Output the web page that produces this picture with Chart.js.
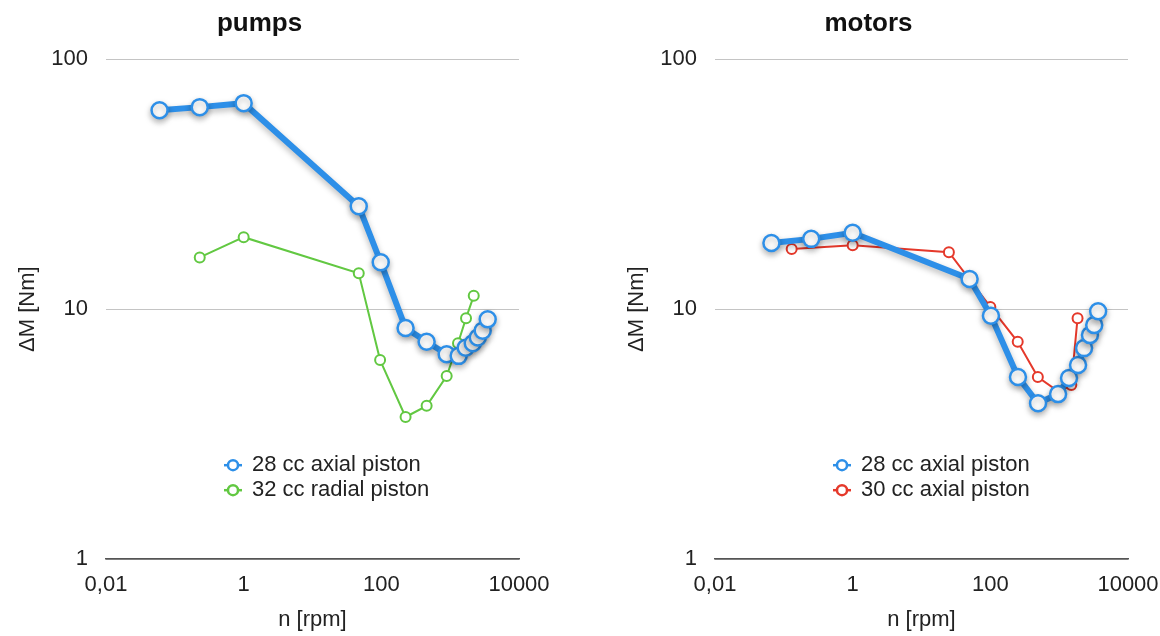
<!DOCTYPE html>
<html>
<head>
<meta charset="utf-8">
<script src="https://cdn.jsdelivr.net/npm/chart.js@4.4.1/dist/chart.umd.min.js"></script>
<style>
  html, body { margin: 0; padding: 0; background: #fff; overflow: hidden; width: 1160px; height: 636px; position: relative; }
  .panel { position: absolute; top: 0; height: 636px; width: 575px; }
  #pumpsBox { left: 0; }
  #motorsBox { left: 609px; }
</style>
</head>
<body>
<div class="panel" id="pumpsBox"><canvas id="pumpsChart"></canvas></div>
<div class="panel" id="motorsBox"><canvas id="motorsChart"></canvas></div>
<script>
// axis ticks
const xTickValues = [0.01, 1, 100, 10000];
const xTickLabels = ['0,01', '1', '100', '10000'];
const yTickValues = [1, 10, 100];

// pumps: 28 cc axial piston
const pumpAxialRpm = [0.06, 0.23, 1, 47, 98, 225, 455, 890, 1330, 1680, 2130, 2520, 2970, 3510];
const pumpAxialNm = [62.5, 64.3, 66.7, 25.8, 15.4, 8.4, 7.4, 6.6, 6.5, 7.0, 7.3, 7.7, 8.2, 9.1];

// pumps: 32 cc radial piston
const pumpRadialRpm = [0.23, 1, 47, 96, 225, 455, 890, 1300, 1700, 2200];
const pumpRadialNm = [16.1, 19.4, 13.9, 6.25, 3.7, 4.1, 5.4, 7.3, 9.2, 11.3];

// motors: 28 cc axial piston
const motorAxialRpm = [0.066, 0.25, 1, 50, 102, 252, 493, 964, 1390, 1880, 2300, 2800, 3230, 3680];
const motorAxialNm = [18.4, 19.1, 20.2, 13.2, 9.4, 5.35, 4.2, 4.57, 5.3, 5.97, 6.98, 7.87, 8.63, 9.8];

// motors: 30 cc axial piston
const motorAxial30Rpm = [0.13, 1, 25, 100, 250, 490, 1000, 1500, 1850];
const motorAxial30Nm = [17.4, 18.0, 16.9, 10.2, 7.4, 5.35, 4.66, 4.97, 9.2];

const BLUE = '#2d8fe8';
const GREEN = '#62c842';
const RED = '#e5392b';

Chart.defaults.font.family = '"Liberation Sans", Arial, Helvetica, sans-serif';
Chart.defaults.color = '#222';

function toPoints(xs, ys) {
  return xs.map((x, i) => ({ x: x, y: ys[i] }));
}

function thickSeries(label, xs, ys, color) {
  return {
    label: label,
    data: toPoints(xs, ys),
    borderColor: color,
    borderWidth: 6,
    pointRadius: 8,
    pointBorderWidth: 2.5,
    pointBackgroundColor: '#fff',
    pointBorderColor: color,
    shadow: true
  };
}

function thinSeries(label, xs, ys, color) {
  return {
    label: label,
    data: toPoints(xs, ys),
    borderColor: color,
    borderWidth: 2,
    pointRadius: 5,
    pointBorderWidth: 2,
    pointBackgroundColor: '#fff',
    pointBorderColor: color
  };
}

// soft drop shadow under the thick series
const lineShadow = {
  id: 'lineShadow',
  beforeDatasetDraw(chart, args) {
    if (!chart.data.datasets[args.index].shadow) return;
    const ctx = chart.ctx;
    ctx.save();
    ctx.shadowColor = 'rgba(0, 0, 0, 0.28)';
    ctx.shadowBlur = 6;
    ctx.shadowOffsetY = 3;
  },
  afterDatasetDraw(chart, args) {
    if (!chart.data.datasets[args.index].shadow) return;
    chart.ctx.restore();
  }
};

// legend drawn inside the plot, lower middle
const insideLegend = {
  id: 'insideLegend',
  afterDraw(chart) {
    const { ctx, chartArea } = chart;
    ctx.save();
    ctx.font = '22px "Liberation Sans", Arial, sans-serif';
    ctx.textBaseline = 'middle';
    ctx.textAlign = 'left';
    chart.data.datasets.forEach((ds, i) => {
      const y = chartArea.top + 406 + i * 25;
      const cx = chartArea.left + 127;
      ctx.strokeStyle = ds.borderColor;
      ctx.lineWidth = 2.5;
      ctx.beginPath();
      ctx.moveTo(cx - 9, y);
      ctx.lineTo(cx + 9, y);
      ctx.stroke();
      ctx.beginPath();
      ctx.arc(cx, y, 5, 0, Math.PI * 2);
      ctx.fillStyle = '#fff';
      ctx.fill();
      ctx.stroke();
      ctx.fillStyle = '#222';
      ctx.fillText(ds.label, cx + 19, y);
    });
    ctx.restore();
  }
};

function makeChart(canvasId, title, datasets) {
  const ctx = document.getElementById(canvasId).getContext('2d');
  return new Chart(ctx, {
    type: 'line',
    data: { datasets: datasets },
    options: {
      responsive: true,
      maintainAspectRatio: false,
      animation: false,
      layout: { padding: { left: 0, right: 56, top: 0, bottom: 0 } },
      elements: { line: { tension: 0 } },
      plugins: {
        legend: { display: false },
        tooltip: { enabled: false },
        title: {
          display: true,
          text: title,
          color: '#111',
          font: { size: 26, weight: 'bold' },
          padding: { top: 8, bottom: 20 }
        }
      },
      scales: {
        x: {
          type: 'logarithmic',
          min: 0.01,
          max: 10000,
          afterBuildTicks: s => { s.ticks = xTickValues.map(v => ({ value: v })); },
          afterFit: s => { s.height = 77; },
          grid: { display: false, drawTicks: false },
          border: { display: true, color: '#555', width: 1.5 },
          ticks: {
            padding: 13,
            font: { size: 22 },
            color: '#222',
            maxRotation: 0,
            autoSkip: false,
            callback: v => xTickLabels[xTickValues.indexOf(v)] ?? ''
          },
          title: {
            display: true,
            text: 'n [rpm]',
            font: { size: 22 },
            color: '#222',
            padding: { top: 0, bottom: 3 }
          }
        },
        y: {
          type: 'logarithmic',
          min: 1,
          max: 100,
          afterBuildTicks: s => { s.ticks = yTickValues.map(v => ({ value: v })); },
          afterFit: s => { s.width = 106; },
          grid: {
            drawTicks: false,
            color: c => (c.tick && c.tick.value === 1 ? '#555' : '#c4c4c4'),
            lineWidth: c => (c.tick && c.tick.value === 1 ? 1.5 : 1)
          },
          border: { display: false },
          ticks: {
            padding: 18,
            font: { size: 22 },
            color: '#222',
            callback: v => String(v)
          },
          title: {
            display: true,
            text: 'ΔM [Nm]',
            font: { size: 22 },
            color: '#222',
            padding: { top: 15, bottom: 0 }
          }
        }
      }
    },
    plugins: [lineShadow, insideLegend]
  });
}

makeChart('pumpsChart', 'pumps', [
  thickSeries('28 cc axial piston', pumpAxialRpm, pumpAxialNm, BLUE),
  thinSeries('32 cc radial piston', pumpRadialRpm, pumpRadialNm, GREEN)
]);

makeChart('motorsChart', 'motors', [
  thickSeries('28 cc axial piston', motorAxialRpm, motorAxialNm, BLUE),
  thinSeries('30 cc axial piston', motorAxial30Rpm, motorAxial30Nm, RED)
]);
</script>
</body>
</html>
